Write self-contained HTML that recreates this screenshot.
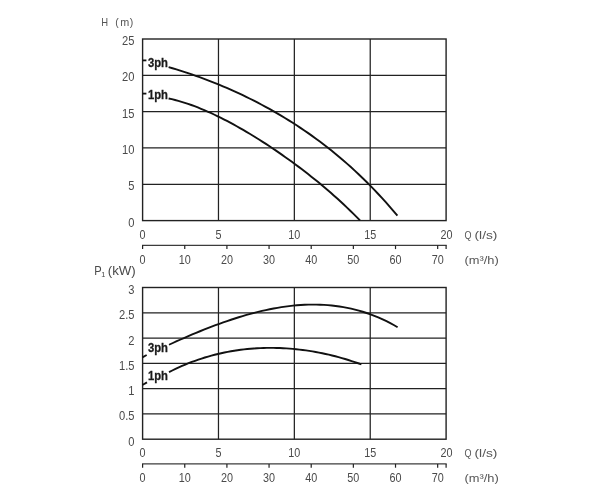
<!DOCTYPE html>
<html><head><meta charset="utf-8"><title>Pump curves</title>
<style>html,body{margin:0;padding:0;background:#fff}svg{display:block}text{font-family:"Liberation Sans",sans-serif}.t{font-size:12px;fill:#4a4a4a}.s{font-size:10.5px;fill:#555}.u{font-size:11px;fill:#555}.b{font-size:12.5px;font-weight:bold;fill:#1a1a1a;stroke:#1a1a1a;stroke-width:0.3px}</style></head><body>
<svg width="600" height="500" viewBox="0 0 600 500">
<rect width="600" height="500" fill="#fff"/>
<line x1="218.47" y1="39.00" x2="218.47" y2="220.60" stroke="#222" stroke-width="1.25"/>
<line x1="294.35" y1="39.00" x2="294.35" y2="220.60" stroke="#222" stroke-width="1.25"/>
<line x1="370.23" y1="39.00" x2="370.23" y2="220.60" stroke="#222" stroke-width="1.25"/>
<line x1="142.60" y1="75.32" x2="446.10" y2="75.32" stroke="#222" stroke-width="1.25"/>
<line x1="142.60" y1="111.64" x2="446.10" y2="111.64" stroke="#222" stroke-width="1.25"/>
<line x1="142.60" y1="147.96" x2="446.10" y2="147.96" stroke="#222" stroke-width="1.25"/>
<line x1="142.60" y1="184.28" x2="446.10" y2="184.28" stroke="#222" stroke-width="1.25"/>
<rect x="142.60" y="39.00" width="303.50" height="181.60" fill="none" stroke="#222" stroke-width="1.4"/>
<line x1="218.47" y1="287.50" x2="218.47" y2="439.20" stroke="#222" stroke-width="1.25"/>
<line x1="294.35" y1="287.50" x2="294.35" y2="439.20" stroke="#222" stroke-width="1.25"/>
<line x1="370.23" y1="287.50" x2="370.23" y2="439.20" stroke="#222" stroke-width="1.25"/>
<line x1="142.60" y1="312.78" x2="446.10" y2="312.78" stroke="#222" stroke-width="1.25"/>
<line x1="142.60" y1="338.07" x2="446.10" y2="338.07" stroke="#222" stroke-width="1.25"/>
<line x1="142.60" y1="363.35" x2="446.10" y2="363.35" stroke="#222" stroke-width="1.25"/>
<line x1="142.60" y1="388.63" x2="446.10" y2="388.63" stroke="#222" stroke-width="1.25"/>
<line x1="142.60" y1="413.92" x2="446.10" y2="413.92" stroke="#222" stroke-width="1.25"/>
<rect x="142.60" y="287.50" width="303.50" height="151.70" fill="none" stroke="#222" stroke-width="1.4"/>
<text class="t" text-anchor="end" transform="translate(134.50 45.00) scale(0.930 1)">25</text>
<text class="t" text-anchor="end" transform="translate(134.50 81.32) scale(0.930 1)">20</text>
<text class="t" text-anchor="end" transform="translate(134.50 117.64) scale(0.930 1)">15</text>
<text class="t" text-anchor="end" transform="translate(134.50 153.96) scale(0.930 1)">10</text>
<text class="t" text-anchor="end" transform="translate(134.50 190.28) scale(0.930 1)">5</text>
<text class="t" text-anchor="end" transform="translate(134.50 226.60) scale(0.930 1)">0</text>
<text class="t" text-anchor="end" transform="translate(134.50 294.00) scale(0.930 1)">3</text>
<text class="t" text-anchor="end" transform="translate(134.50 319.28) scale(0.930 1)">2.5</text>
<text class="t" text-anchor="end" transform="translate(134.50 344.57) scale(0.930 1)">2</text>
<text class="t" text-anchor="end" transform="translate(134.50 369.85) scale(0.930 1)">1.5</text>
<text class="t" text-anchor="end" transform="translate(134.50 395.13) scale(0.930 1)">1</text>
<text class="t" text-anchor="end" transform="translate(134.50 420.42) scale(0.930 1)">0.5</text>
<text class="t" text-anchor="end" transform="translate(134.50 445.70) scale(0.930 1)">0</text>
<text class="t" text-anchor="middle" transform="translate(142.60 238.70) scale(0.900 1)">0</text>
<text class="t" text-anchor="middle" transform="translate(218.47 238.70) scale(0.900 1)">5</text>
<text class="t" text-anchor="middle" transform="translate(294.35 238.70) scale(0.900 1)">10</text>
<text class="t" text-anchor="middle" transform="translate(370.23 238.70) scale(0.900 1)">15</text>
<text class="t" text-anchor="middle" transform="translate(446.60 238.70) scale(0.900 1)">20</text>
<text class="u" text-anchor="start" transform="translate(464.50 238.70) scale(0.820 1)">Q</text>
<text class="u" text-anchor="start" transform="translate(474.50 238.70) scale(1.250 1)">(l/s)</text>
<line x1="142.00" y1="245.30" x2="446.70" y2="245.30" stroke="#3c3c3c" stroke-width="1.25"/>
<line x1="142.60" y1="245.30" x2="142.60" y2="249.10" stroke="#222" stroke-width="1.2"/>
<text class="t" text-anchor="middle" transform="translate(142.60 263.60) scale(0.900 1)">0</text>
<line x1="184.75" y1="245.30" x2="184.75" y2="249.10" stroke="#222" stroke-width="1.2"/>
<text class="t" text-anchor="middle" transform="translate(184.75 263.60) scale(0.900 1)">10</text>
<line x1="226.91" y1="245.30" x2="226.91" y2="249.10" stroke="#222" stroke-width="1.2"/>
<text class="t" text-anchor="middle" transform="translate(226.91 263.60) scale(0.900 1)">20</text>
<line x1="269.06" y1="245.30" x2="269.06" y2="249.10" stroke="#222" stroke-width="1.2"/>
<text class="t" text-anchor="middle" transform="translate(269.06 263.60) scale(0.900 1)">30</text>
<line x1="311.21" y1="245.30" x2="311.21" y2="249.10" stroke="#222" stroke-width="1.2"/>
<text class="t" text-anchor="middle" transform="translate(311.21 263.60) scale(0.900 1)">40</text>
<line x1="353.36" y1="245.30" x2="353.36" y2="249.10" stroke="#222" stroke-width="1.2"/>
<text class="t" text-anchor="middle" transform="translate(353.36 263.60) scale(0.900 1)">50</text>
<line x1="395.52" y1="245.30" x2="395.52" y2="249.10" stroke="#222" stroke-width="1.2"/>
<text class="t" text-anchor="middle" transform="translate(395.52 263.60) scale(0.900 1)">60</text>
<line x1="437.67" y1="245.30" x2="437.67" y2="249.10" stroke="#222" stroke-width="1.2"/>
<text class="t" text-anchor="middle" transform="translate(437.67 263.60) scale(0.900 1)">70</text>
<line x1="446.10" y1="245.30" x2="446.10" y2="249.10" stroke="#222" stroke-width="1.2"/>
<text class="u" text-anchor="start" transform="translate(464.50 263.60) scale(1.170 1)">(m³/h)</text>
<text class="t" text-anchor="middle" transform="translate(142.60 457.30) scale(0.900 1)">0</text>
<text class="t" text-anchor="middle" transform="translate(218.47 457.30) scale(0.900 1)">5</text>
<text class="t" text-anchor="middle" transform="translate(294.35 457.30) scale(0.900 1)">10</text>
<text class="t" text-anchor="middle" transform="translate(370.23 457.30) scale(0.900 1)">15</text>
<text class="t" text-anchor="middle" transform="translate(446.60 457.30) scale(0.900 1)">20</text>
<text class="u" text-anchor="start" transform="translate(464.50 457.30) scale(0.820 1)">Q</text>
<text class="u" text-anchor="start" transform="translate(474.50 457.30) scale(1.250 1)">(l/s)</text>
<line x1="142.00" y1="463.90" x2="446.70" y2="463.90" stroke="#3c3c3c" stroke-width="1.25"/>
<line x1="142.60" y1="463.90" x2="142.60" y2="467.70" stroke="#222" stroke-width="1.2"/>
<text class="t" text-anchor="middle" transform="translate(142.60 482.20) scale(0.900 1)">0</text>
<line x1="184.75" y1="463.90" x2="184.75" y2="467.70" stroke="#222" stroke-width="1.2"/>
<text class="t" text-anchor="middle" transform="translate(184.75 482.20) scale(0.900 1)">10</text>
<line x1="226.91" y1="463.90" x2="226.91" y2="467.70" stroke="#222" stroke-width="1.2"/>
<text class="t" text-anchor="middle" transform="translate(226.91 482.20) scale(0.900 1)">20</text>
<line x1="269.06" y1="463.90" x2="269.06" y2="467.70" stroke="#222" stroke-width="1.2"/>
<text class="t" text-anchor="middle" transform="translate(269.06 482.20) scale(0.900 1)">30</text>
<line x1="311.21" y1="463.90" x2="311.21" y2="467.70" stroke="#222" stroke-width="1.2"/>
<text class="t" text-anchor="middle" transform="translate(311.21 482.20) scale(0.900 1)">40</text>
<line x1="353.36" y1="463.90" x2="353.36" y2="467.70" stroke="#222" stroke-width="1.2"/>
<text class="t" text-anchor="middle" transform="translate(353.36 482.20) scale(0.900 1)">50</text>
<line x1="395.52" y1="463.90" x2="395.52" y2="467.70" stroke="#222" stroke-width="1.2"/>
<text class="t" text-anchor="middle" transform="translate(395.52 482.20) scale(0.900 1)">60</text>
<line x1="437.67" y1="463.90" x2="437.67" y2="467.70" stroke="#222" stroke-width="1.2"/>
<text class="t" text-anchor="middle" transform="translate(437.67 482.20) scale(0.900 1)">70</text>
<line x1="446.10" y1="463.90" x2="446.10" y2="467.70" stroke="#222" stroke-width="1.2"/>
<text class="u" text-anchor="start" transform="translate(464.50 482.20) scale(1.170 1)">(m³/h)</text>
<text class="s" text-anchor="start" transform="translate(101.30 26.00) scale(0.900 1)">H</text>
<text class="s" text-anchor="start" transform="translate(115.30 26.00) scale(1.000 1)">(</text>
<text class="s" text-anchor="start" transform="translate(120.30 26.00) scale(1.030 1)">m</text>
<text class="s" text-anchor="start" transform="translate(129.80 26.00) scale(1.000 1)">)</text>
<text class="t" text-anchor="start" transform="translate(94.2 274.8) scale(0.93 1)">P<tspan font-size="8" dy="2.5" dx="-0.5">1</tspan></text>
<text class="t" text-anchor="start" transform="translate(107.70 274.80) scale(1.110 1)">(kW)</text>
<path d="M168.60 67.14 L172.48 68.26 L176.36 69.42 L180.23 70.62 L184.11 71.85 L187.99 73.13 L191.87 74.44 L195.75 75.78 L199.62 77.17 L203.50 78.59 L207.38 80.06 L211.26 81.56 L215.14 83.09 L219.01 84.67 L222.89 86.29 L226.77 87.94 L230.65 89.64 L234.53 91.38 L238.40 93.15 L242.28 94.97 L246.16 96.83 L250.04 98.74 L253.92 100.69 L257.79 102.68 L261.67 104.72 L265.55 106.81 L269.43 108.94 L273.31 111.12 L277.18 113.35 L281.06 115.64 L284.94 117.97 L288.82 120.36 L292.69 122.80 L296.57 125.30 L300.45 127.86 L304.33 130.48 L308.21 133.15 L312.08 135.89 L315.96 138.69 L319.84 141.56 L323.72 144.50 L327.60 147.50 L331.47 150.57 L335.35 153.72 L339.23 156.94 L343.11 160.24 L346.99 163.62 L350.86 167.08 L354.74 170.62 L358.62 174.25 L362.50 177.96 L366.38 181.76 L370.25 185.66 L374.13 189.65 L378.01 193.74 L381.89 197.93 L385.77 202.22 L389.64 206.61 L393.52 211.11 L397.40 215.73" fill="none" stroke="#111" stroke-width="1.9" stroke-linecap="butt" stroke-linejoin="round"/>
<path d="M168.60 98.45 L171.84 99.18 L175.09 99.98 L178.33 100.85 L181.58 101.79 L184.82 102.80 L188.06 103.87 L191.31 105.01 L194.55 106.20 L197.80 107.45 L201.04 108.76 L204.28 110.12 L207.53 111.53 L210.77 112.99 L214.02 114.49 L217.26 116.04 L220.51 117.64 L223.75 119.28 L226.99 120.95 L230.24 122.67 L233.48 124.43 L236.73 126.22 L239.97 128.06 L243.21 129.92 L246.46 131.82 L249.70 133.76 L252.95 135.73 L256.19 137.73 L259.43 139.76 L262.68 141.83 L265.92 143.92 L269.17 146.05 L272.41 148.21 L275.65 150.40 L278.90 152.62 L282.14 154.87 L285.39 157.16 L288.63 159.47 L291.87 161.82 L295.12 164.20 L298.36 166.62 L301.61 169.07 L304.85 171.55 L308.09 174.07 L311.34 176.63 L314.58 179.23 L317.83 181.86 L321.07 184.54 L324.32 187.26 L327.56 190.02 L330.80 192.82 L334.05 195.68 L337.29 198.58 L340.54 201.53 L343.78 204.53 L347.02 207.59 L350.27 210.71 L353.51 213.88 L356.76 217.11 L360.00 220.41" fill="none" stroke="#111" stroke-width="1.9" stroke-linecap="butt" stroke-linejoin="round"/>
<path d="M169.00 344.76 L172.87 342.99 L176.75 341.23 L180.62 339.50 L184.50 337.80 L188.37 336.12 L192.25 334.47 L196.12 332.85 L200.00 331.25 L203.87 329.69 L207.75 328.16 L211.62 326.67 L215.49 325.21 L219.37 323.78 L223.24 322.40 L227.12 321.05 L230.99 319.75 L234.87 318.48 L238.74 317.26 L242.62 316.09 L246.49 314.96 L250.37 313.88 L254.24 312.85 L258.12 311.87 L261.99 310.95 L265.86 310.08 L269.74 309.26 L273.61 308.51 L277.49 307.82 L281.36 307.18 L285.24 306.62 L289.11 306.11 L292.99 305.68 L296.86 305.32 L300.74 305.02 L304.61 304.80 L308.48 304.66 L312.36 304.59 L316.23 304.60 L320.11 304.70 L323.98 304.88 L327.86 305.14 L331.73 305.50 L335.61 305.94 L339.48 306.47 L343.36 307.10 L347.23 307.83 L351.11 308.66 L354.98 309.59 L358.85 310.62 L362.73 311.76 L366.60 313.01 L370.48 314.37 L374.35 315.84 L378.23 317.43 L382.10 319.14 L385.98 320.97 L389.85 322.92 L393.73 325.00 L397.60 327.21" fill="none" stroke="#111" stroke-width="1.9" stroke-linecap="butt" stroke-linejoin="round"/>
<path d="M169.00 372.16 L172.26 370.51 L175.52 368.93 L178.78 367.41 L182.04 365.96 L185.31 364.57 L188.57 363.24 L191.83 361.98 L195.09 360.77 L198.35 359.63 L201.61 358.54 L204.87 357.52 L208.13 356.55 L211.39 355.63 L214.65 354.77 L217.92 353.97 L221.18 353.22 L224.44 352.52 L227.70 351.87 L230.96 351.28 L234.22 350.73 L237.48 350.24 L240.74 349.79 L244.00 349.39 L247.26 349.04 L250.53 348.74 L253.79 348.48 L257.05 348.27 L260.31 348.11 L263.57 347.99 L266.83 347.92 L270.09 347.89 L273.35 347.90 L276.61 347.96 L279.87 348.06 L283.14 348.21 L286.40 348.40 L289.66 348.63 L292.92 348.90 L296.18 349.22 L299.44 349.57 L302.70 349.97 L305.96 350.42 L309.22 350.90 L312.48 351.43 L315.75 352.00 L319.01 352.61 L322.27 353.26 L325.53 353.95 L328.79 354.69 L332.05 355.47 L335.31 356.29 L338.57 357.16 L341.83 358.07 L345.09 359.02 L348.36 360.01 L351.62 361.05 L354.88 362.14 L358.14 363.26 L361.40 364.44" fill="none" stroke="#111" stroke-width="1.9" stroke-linecap="butt" stroke-linejoin="round"/>
<line x1="142.60" y1="60.40" x2="146.40" y2="60.40" stroke="#111" stroke-width="1.8"/>
<line x1="142.60" y1="93.60" x2="146.40" y2="93.60" stroke="#111" stroke-width="1.8"/>
<line x1="142.40" y1="357.40" x2="146.70" y2="355.00" stroke="#111" stroke-width="1.8"/>
<line x1="142.40" y1="385.00" x2="147.00" y2="382.40" stroke="#111" stroke-width="1.8"/>
<text class="b" text-anchor="start" transform="translate(148.00 66.60) scale(0.900 1)">3ph</text>
<text class="b" text-anchor="start" transform="translate(148.00 99.00) scale(0.900 1)">1ph</text>
<text class="b" text-anchor="start" transform="translate(148.00 352.20) scale(0.900 1)">3ph</text>
<text class="b" text-anchor="start" transform="translate(148.00 379.60) scale(0.900 1)">1ph</text>
</svg></body></html>
